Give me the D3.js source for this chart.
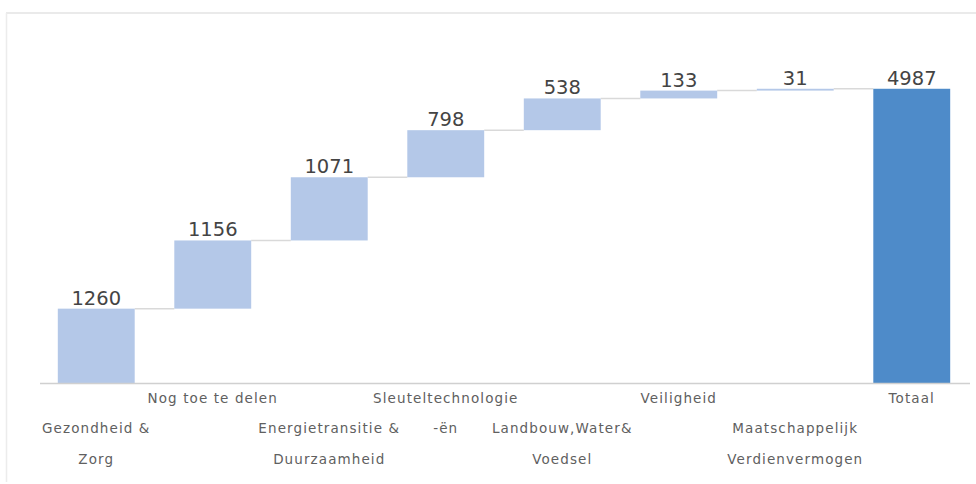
<!DOCTYPE html>
<html>
<head>
<meta charset="utf-8">
<script src="https://cdn.jsdelivr.net/npm/d3@7"></script>
<style>
  body { margin: 0; background: #fff; }
  svg { display: block; }
  .cat { font-family: "DejaVu Sans", Verdana, sans-serif; font-size: 13.5px; letter-spacing: 1.1px; fill: #606060; }
  .val { font-family: "DejaVu Sans", Verdana, sans-serif; font-size: 19.5px; fill: #444; }
</style>
</head>
<body>
<div id="chart"></div>
<script>
// Data
const categories = [
  ['Gezondheid &', 'Zorg'],
  ['Nog toe te delen'],
  ['Energietransitie &', 'Duurzaamheid'],
  ['Sleuteltechnologie', '-ën'],
  ['Landbouw,Water&', 'Voedsel'],
  ['Veiligheid'],
  ['Maatschappelijk', 'Verdienvermogen'],
  ['Totaal']
];
const values = [1260, 1156, 1071, 798, 538, 133, 31, 4987];
const isTotal = [false, false, false, false, false, false, false, true];

const width = 976, height = 484;
const baseY = 383;

const svg = d3.select('#chart').append('svg')
  .attr('width', width)
  .attr('height', height);

// Chart frame
svg.append('line').attr('x1', 6).attr('x2', width).attr('y1', 13).attr('y2', 13)
  .attr('stroke', '#e3e3e3').attr('stroke-width', 1.5);
svg.append('line').attr('x1', 6.5).attr('x2', 6.5).attr('y1', 13).attr('y2', 482)
  .attr('stroke', '#ececec').attr('stroke-width', 1.5);

// Running totals
let running = 0;
const steps = values.map((v, i) => {
  if (isTotal[i]) return { i, v, start: 0, end: v };
  const s = { i, v, start: running, end: running + v };
  running += v;
  return s;
});

const x = d3.scaleBand()
  .domain(d3.range(values.length))
  .range([38, 970])
  .paddingInner(0.34)
  .paddingOuter(0.17);

const y = d3.scaleLinear()
  .domain([0, 5000])
  .range([baseY, 88]);

// Connector lines
const connectors = steps.slice(0, -1).map((s, k) => ({ from: k, to: k + 1, level: s.end }));
svg.append('g').selectAll('line')
  .data(connectors)
  .join('line')
  .attr('x1', d => x(d.from) + x.bandwidth())
  .attr('x2', d => x(d.to))
  .attr('y1', d => y(d.level))
  .attr('y2', d => y(d.level))
  .attr('stroke', '#d9d9d9')
  .attr('stroke-width', 1.5);

// Bars
svg.append('g').selectAll('rect')
  .data(steps)
  .join('rect')
  .attr('x', d => x(d.i))
  .attr('width', x.bandwidth())
  .attr('y', d => y(d.end))
  .attr('height', d => Math.max(1.5, y(d.start) - y(d.end)))
  .attr('fill', d => isTotal[d.i] ? '#4e8bc9' : '#b4c8e8');

// Value labels
svg.append('g').selectAll('text')
  .data(steps)
  .join('text')
  .attr('class', 'val')
  .attr('x', d => x(d.i) + x.bandwidth() / 2)
  .attr('y', d => y(d.end) - 4)
  .attr('text-anchor', 'middle')
  .text(d => d.v);

// Axis line
svg.append('line')
  .attr('x1', 40).attr('x2', 970)
  .attr('y1', baseY + 0.5).attr('y2', baseY + 0.5)
  .attr('stroke', '#d0d0d0').attr('stroke-width', 1.5);

// Category labels, staggered like the original
const rowY = [403, 433, 464];
const catG = svg.append('g').selectAll('text')
  .data(categories.map((lines, i) => ({ lines, i })))
  .join('text')
  .attr('class', 'cat')
  .attr('text-anchor', 'middle');

catG.selectAll('tspan')
  .data(d => d.lines.map((t, k) => ({ t, k, i: d.i })))
  .join('tspan')
  .attr('x', d => x(d.i) + x.bandwidth() / 2)
  .attr('y', d => rowY[(d.i % 2 === 0 ? 1 : 0) + d.k])
  .text(d => d.t);
</script>
</body>
</html>
